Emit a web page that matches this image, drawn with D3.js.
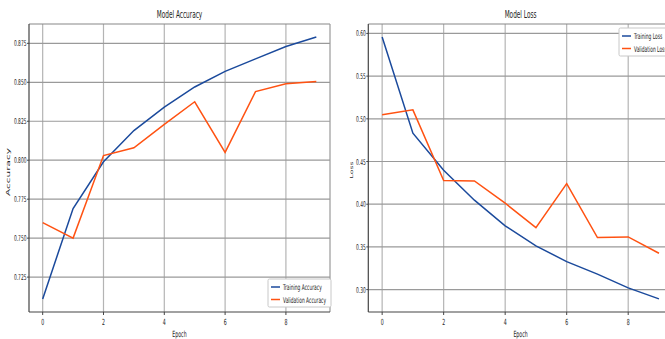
<!DOCTYPE html>
<html>
<head>
<meta charset="utf-8">
<script src="https://cdn.jsdelivr.net/npm/d3@7"></script>
<style>
  body { margin: 0; background: #fff; }
  svg { display: block; font-family: "DejaVu Sans", sans-serif; }
</style>
</head>
<body>
<script>
// data
var epochs = [0, 1, 2, 3, 4, 5, 6, 7, 8, 9];
var trainAcc = [0.711, 0.769, 0.799, 0.819, 0.834, 0.847, 0.857, 0.865, 0.873, 0.879];
var valAcc = [0.760, 0.750, 0.803, 0.808, 0.823, 0.8375, 0.805, 0.844, 0.849, 0.8505];
var trainLoss = [0.5957, 0.4832, 0.4398, 0.4047, 0.3747, 0.3512, 0.3328, 0.3181, 0.302, 0.2891];
var valLoss = [0.5047, 0.5105, 0.4278, 0.4272, 0.4012, 0.3726, 0.4242, 0.3609, 0.3617, 0.3426];
var xTicks = [0, 2, 4, 6, 8];
var accTicks = [0.725, 0.750, 0.775, 0.800, 0.825, 0.850, 0.875];
var lossTicks = [0.30, 0.35, 0.40, 0.45, 0.50, 0.55, 0.60];

var width = 665;
var height = 339;
var blue = '#1b4a9c';
var orange = '#ff5212';
var sx = 0.55; // text looks squeezed sideways

var svg = d3.select('body').append('svg')
  .attr('width', width)
  .attr('height', height);

// squeezed text helper
function label(g, x, y, txt, size, anchor) {
  return g.append('text')
    .attr('transform', 'translate(' + x + ',' + y + ') scale(' + sx + ',1)')
    .attr('text-anchor', anchor || 'middle')
    .attr('font-size', size)
    .attr('fill', '#222')
    .text(txt);
}

function panel(opt) {
  var g = svg.append('g');
  var x = d3.scaleLinear().domain([-0.45, 9.45]).range([opt.left, opt.right]);
  var ext = d3.extent(opt.series[0].values.concat(opt.series[1].values));
  var pad = (ext[1] - ext[0]) * 0.05;
  var y = d3.scaleLinear().domain([ext[0] - pad, ext[1] + pad]).range([opt.bottom, opt.top]);

  // grid
  g.selectAll('.vg').data(xTicks).enter().append('line')
    .attr('x1', function (d) { return x(d); }).attr('x2', function (d) { return x(d); })
    .attr('y1', opt.top).attr('y2', opt.bottom)
    .attr('stroke', '#b4b4b4').attr('stroke-width', 1.2);
  g.selectAll('.hg').data(opt.yTicks).enter().append('line')
    .attr('x1', opt.left).attr('x2', opt.right)
    .attr('y1', function (d) { return y(d); }).attr('y2', function (d) { return y(d); })
    .attr('stroke', '#9a9a9a').attr('stroke-width', 1.2);

  // frame
  g.append('line').attr('x1', opt.left).attr('x2', opt.right).attr('y1', opt.top).attr('y2', opt.top)
    .attr('stroke', '#888').attr('stroke-width', 1.2);
  g.append('line').attr('x1', opt.right).attr('x2', opt.right).attr('y1', opt.top).attr('y2', opt.bottom)
    .attr('stroke', '#999').attr('stroke-width', 1.2);
  g.append('line').attr('x1', opt.left).attr('x2', opt.left).attr('y1', opt.top).attr('y2', opt.bottom)
    .attr('stroke', '#444').attr('stroke-width', 1.2);
  g.append('line').attr('x1', opt.left).attr('x2', opt.right).attr('y1', opt.bottom).attr('y2', opt.bottom)
    .attr('stroke', '#444').attr('stroke-width', 1.2);

  // ticks
  xTicks.forEach(function (t) {
    g.append('line').attr('x1', x(t)).attr('x2', x(t)).attr('y1', opt.bottom).attr('y2', opt.bottom + 3)
      .attr('stroke', '#444');
    label(g, x(t), opt.bottom + 13, t, 8.5);
  });
  opt.yTicks.forEach(function (t) {
    g.append('line').attr('x1', opt.left - 2).attr('x2', opt.left).attr('y1', y(t)).attr('y2', y(t))
      .attr('stroke', '#444');
    label(g, opt.left - 2.5, y(t) + 3, d3.format(opt.fmt)(t), 8, 'end');
  });

  // lines
  var line = d3.line()
    .x(function (d, i) { return x(epochs[i]); })
    .y(function (d) { return y(d); });
  opt.series.forEach(function (s) {
    g.append('path').datum(s.values)
      .attr('d', line)
      .attr('fill', 'none')
      .attr('stroke', s.color)
      .attr('stroke-width', 1.5);
  });

  // titles
  var cx = (opt.left + opt.right) / 2;
  label(g, cx, 18, opt.title, 10.5);
  label(g, cx, 337, 'Epoch', 8.5);
  g.append('text')
    .attr('transform', 'translate(' + opt.ylabX + ',' + opt.ylabY + ') scale(' + sx + ',1) rotate(-90)')
    .attr('text-anchor', 'middle')
    .attr('font-size', opt.ylabSize)
    .attr('fill', '#222')
    .text(opt.ylabel);

  // legend
  var lg = g.append('g');
  lg.append('rect')
    .attr('x', opt.legX).attr('y', opt.legY)
    .attr('width', opt.legW).attr('height', 28)
    .attr('rx', 1.5)
    .attr('fill', '#fff').attr('stroke', '#c8c8c8');
  opt.series.forEach(function (s, i) {
    var ly = opt.legY + 8 + i * 12.5;
    lg.append('line').attr('x1', opt.legX + 3).attr('x2', opt.legX + 12)
      .attr('y1', ly).attr('y2', ly)
      .attr('stroke', s.color).attr('stroke-width', 1.5);
    label(lg, opt.legX + 15, ly + 3, s.name, 8, 'start');
  });
}

panel({
  left: 29, right: 330, top: 24, bottom: 312,
  yTicks: accTicks, fmt: '.3f',
  title: 'Model Accuracy', ylabel: 'Accuracy', ylabX: 9.5, ylabY: 172, ylabSize: 10.5,
  legX: 268, legY: 279, legW: 63,
  series: [
    { name: 'Training Accuracy', values: trainAcc, color: blue },
    { name: 'Validation Accuracy', values: valAcc, color: orange }
  ]
});

panel({
  left: 368.3, right: 672.8, top: 24, bottom: 312,
  yTicks: lossTicks, fmt: '.2f',
  title: 'Model Loss', ylabel: 'Loss', ylabX: 352.5, ylabY: 170, ylabSize: 7.7,
  legX: 619, legY: 28, legW: 60,
  series: [
    { name: 'Training Loss', values: trainLoss, color: blue },
    { name: 'Validation Loss', values: valLoss, color: orange }
  ]
});
</script>
</body>
</html>
